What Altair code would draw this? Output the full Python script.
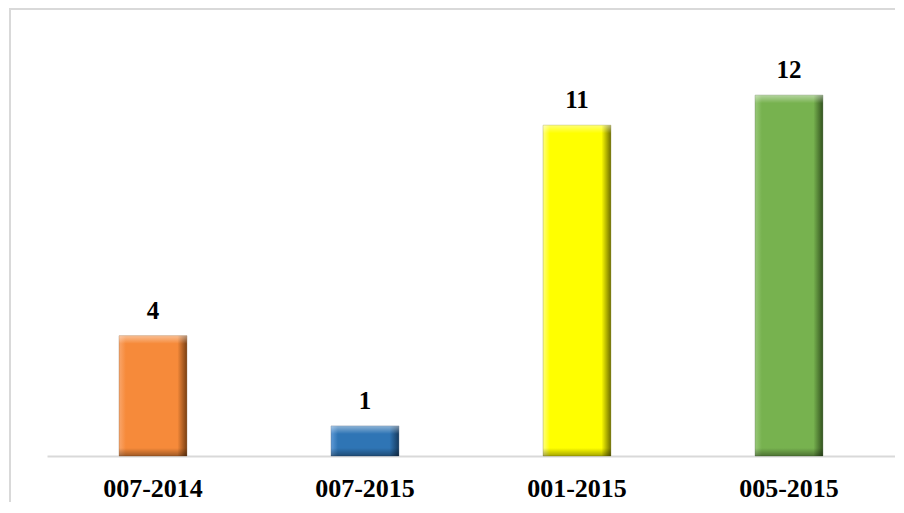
import altair as alt
import pandas as pd

categories = ["007-2014", "007-2015", "001-2015", "005-2015"]
values = [4, 1, 11, 12]

# styling palette (light edge, main, dark edge)
palette = [
    ("#F9A56A", "#F68A3A", "#7A3F12"),
    ("#5E9AD6", "#2F75B5", "#163A5E"),
    ("#FFFF80", "#FFFF00", "#6E6E00"),
    ("#98C878", "#77B24F", "#33531F"),
]

W, H = 848, 421
YMAX = 14
df = pd.DataFrame({"cat": categories, "val": values})

xenc = alt.X("cat:N", sort=categories,
             scale=alt.Scale(domain=categories, paddingInner=0.68, paddingOuter=0.34),
             axis=alt.Axis(title=None, labelAngle=0, ticks=False, domainColor="#D9D9D9",
                           domainWidth=2, labelFont="Liberation Serif", labelFontWeight="bold",
                           labelFontSize=26, labelColor="#000000", labelPadding=19, grid=False))
yenc = alt.Y("val:Q", scale=alt.Scale(domain=[0, YMAX]), axis=None)

one = pd.DataFrame({"a": [0]})
frame_top = alt.Chart(one).mark_rule(stroke="#D9D9D9", strokeWidth=2, clip=False).encode(
    x=alt.value(-38), x2=alt.value(W + 8), y=alt.value(-26))
frame_left = alt.Chart(one).mark_rule(stroke="#D9D9D9", strokeWidth=2, clip=False).encode(
    x=alt.value(-37), y=alt.value(-27), y2=alt.value(H + 52))

layers = [frame_top, frame_left]
px_per_unit = H / YMAX
for i, cat in enumerate(categories):
    light, main, dark = palette[i]
    hpx = values[i] * px_per_unit
    f = min(8.0 / hpx, 0.45)
    hgrad = alt.LinearGradient(
        gradient="linear", x1=0, x2=1, y1=0, y2=0,
        stops=[alt.GradientStop(color=light, offset=0),
               alt.GradientStop(color=main, offset=0.1),
               alt.GradientStop(color=main, offset=0.86),
               alt.GradientStop(color=dark, offset=1)])
    vgrad = alt.LinearGradient(
        gradient="linear", x1=0, x2=0, y1=0, y2=1,
        stops=[alt.GradientStop(color="rgba(255,255,255,0.45)", offset=0),
               alt.GradientStop(color="rgba(255,255,255,0)", offset=f),
               alt.GradientStop(color="rgba(0,0,0,0)", offset=1 - f),
               alt.GradientStop(color="rgba(0,0,0,0.35)", offset=1)])
    base = alt.Chart(df).transform_filter(alt.datum.cat == cat)
    layers.append(base.mark_bar(fill=hgrad, stroke=dark, strokeWidth=0.6, strokeOpacity=0.5)
                  .encode(x=xenc, y=yenc))
    layers.append(base.mark_bar(fill=vgrad).encode(x=xenc, y=yenc))

labels = alt.Chart(df).mark_text(
    font="Liberation Serif", fontWeight="bold", fontSize=25, color="#000000",
    baseline="alphabetic", dy=-17
).encode(x=xenc, y=yenc, text=alt.Text("val:Q"))
layers.append(labels)

chart = alt.layer(*layers).properties(
    width=W, height=H,
    autosize=alt.AutoSizeParams(type="none"),
    padding={"left": 39, "top": 27, "right": 0, "bottom": 46},
    view=alt.ViewBackground(stroke="transparent"),
).configure_view(stroke="transparent", strokeWidth=0).configure(background="white")

chart.save("out.html", embed_options={"renderer": "svg", "actions": False})
